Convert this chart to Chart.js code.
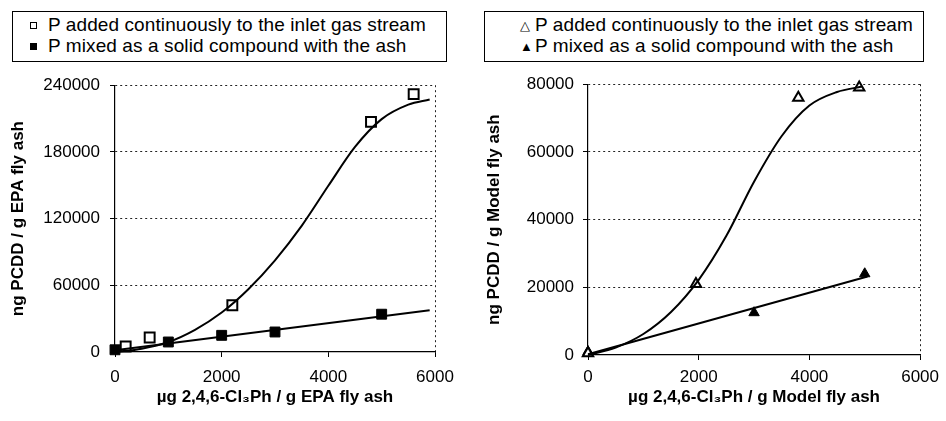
<!DOCTYPE html>
<html lang="en">
<head>
    <meta charset="UTF-8">
    <title>PCDD formation vs 2,4,6-Cl3Ph</title>
    <style>
        body {
            margin: 0;
            background: #fff;
            font-family: "Liberation Sans", Arial, sans-serif;
        }
        .wrap {
            position: relative;
            width: 946px;
            height: 421px;
            overflow: hidden;
        }
        .legend {
            position: absolute;
            top: 11px;
            height: 51px;
            border: 1px solid #000;
            font-size: 19px;
            letter-spacing: 0.1px;
            line-height: 20px;
            color: #000;
            box-sizing: border-box;
        }
        .legend div {
            position: absolute;
            white-space: nowrap;
        }
        .sq {
            position: absolute;
            width: 7px;
            height: 7px;
            box-sizing: border-box;
            border: 1.5px solid #000;
        }
        .tri {
            position: absolute;
            font-size: 13px;
            line-height: 13px;
        }
        .box {
            position: absolute;
            top: 65px;
            width: 470px;
            height: 356px;
        }
    </style>
    <script src="https://cdn.jsdelivr.net/npm/chart.js"></script>
</head>
<body>
<div class="wrap">
    <div class="legend" style="left:12px; width:435px;">
        <span class="sq" style="left:17px; top:10px;"></span>
        <div style="left:35px; top:3px;">P added continuously to the inlet gas stream</div>
        <span class="sq" style="left:17px; top:31px; background:#000;"></span>
        <div style="left:35px; top:24px;">P mixed as a solid compound with the ash</div>
    </div>
    <div class="legend" style="left:484px; width:440px;">
        <span class="tri" style="left:35px; top:7px;">△</span>
        <div style="left:50px; top:3px;">P added continuously to the inlet gas stream</div>
        <span class="tri" style="left:35px; top:28px;">▲</span>
        <div style="left:50px; top:24px;">P mixed as a solid compound with the ash</div>
    </div>
    <div class="box" style="left:0px;"><canvas id="epaChart"></canvas></div>
    <div class="box" style="left:476px;"><canvas id="modelChart"></canvas></div>
</div>

<script>
    // EPA fly ash (left panel)
    const epaGasX = [200, 650, 2200, 4800, 5600];
    const epaGasY = [5000, 13000, 42000, 207000, 232000];
    const epaSolidX = [0, 1000, 2000, 3000, 5000];
    const epaSolidY = [2000, 9000, 15000, 18000, 34000];
    // fitted curves
    const epaFitX = [0, 500, 1000, 1500, 2000, 2500, 3000, 3500, 4000, 4500, 5000, 5500, 5900];
    const epaFitY = [0, 3000, 9000, 20000, 35500, 56500, 82500, 113500, 149500, 184500, 209500, 222500, 227100];
    const epaLineX = [0, 5900];
    const epaLineY = [1500, 37500];

    // Model fly ash (right panel)
    const modelGasX = [0, 1950, 3800, 4900];
    const modelGasY = [500, 21000, 76000, 79000];
    const modelSolidX = [0, 3000, 5000];
    const modelSolidY = [1000, 12500, 24000];
    const modelFitX = [0, 500, 1000, 1500, 2000, 2500, 3000, 3500, 4000, 4500, 4950];
    const modelFitY = [0, 2200, 6200, 12700, 22200, 35200, 51200, 64700, 73700, 77700, 79300];
    const modelLineX = [0, 5050];
    const modelLineY = [200, 23200];

    const xMax = 6000;
    const xStep = 2000;

    Chart.defaults.font.family = '"Liberation Sans", Arial, sans-serif';
    Chart.defaults.color = '#000';

    function pts(xs, ys) {
        return xs.map((x, i) => ({x: x, y: ys[i]}));
    }

    function makeChart(id, cfg) {
        const ctx = document.getElementById(id).getContext('2d');
        return new Chart(ctx, {
            type: 'scatter',
            data: {
                datasets: [{
                    data: pts(cfg.fitX, cfg.fitY),
                    showLine: true,
                    borderColor: '#000',
                    borderWidth: 2,
                    pointRadius: 0,
                    cubicInterpolationMode: 'monotone'
                }, {
                    data: pts(cfg.lineX, cfg.lineY),
                    showLine: true,
                    borderColor: '#000',
                    borderWidth: 2,
                    pointRadius: 0
                }, {
                    data: pts(cfg.gasX, cfg.gasY),
                    pointStyle: cfg.style,
                    pointRadius: cfg.radius,
                    backgroundColor: '#fff',
                    borderColor: '#000',
                    borderWidth: 2
                }, {
                    data: pts(cfg.solidX, cfg.solidY),
                    pointStyle: cfg.style,
                    pointRadius: cfg.radius,
                    backgroundColor: '#000',
                    borderColor: '#000',
                    borderWidth: 1
                }]
            },
            options: {
                responsive: true,
                maintainAspectRatio: false,
                animation: false,
                clip: false,
                layout: {
                    padding: {top: cfg.padTop, right: cfg.padRight, left: 0, bottom: 0}
                },
                plugins: {
                    legend: {display: false},
                    tooltip: {enabled: false}
                },
                scales: {
                    x: {
                        type: 'linear',
                        min: 0,
                        max: xMax,
                        afterFit: s => { s.height = cfg.xHeight; },
                        ticks: {
                            stepSize: xStep,
                            padding: cfg.xPad,
                            font: {size: 17},
                            maxRotation: 0,
                            callback: v => String(v)
                        },
                        grid: {
                            color: c => (c.tick && c.tick.value === xMax) ? '#222' : 'transparent',
                            tickColor: '#000',
                            tickLength: 5,
                            lineWidth: 1
                        },
                        border: {display: true, color: '#000', width: 1.2, dash: [2, 3]},
                        title: {
                            display: true,
                            text: cfg.xTitle,
                            font: {size: 17, weight: 'bold'},
                            padding: {top: 2, bottom: 13}
                        }
                    },
                    y: {
                        min: 0,
                        max: cfg.yMax,
                        afterFit: s => { s.width = cfg.yWidth; },
                        ticks: {
                            stepSize: cfg.yStep,
                            padding: cfg.yPad,
                            font: {size: 17},
                            callback: v => String(v)
                        },
                        grid: {
                            color: c => (c.tick && c.tick.value === 0) ? 'transparent' : '#222',
                            tickColor: '#000',
                            tickLength: 5,
                            lineWidth: 1
                        },
                        border: {display: true, color: '#000', width: 1.2, dash: [2, 3]},
                        title: {
                            display: true,
                            text: cfg.yTitle,
                            font: {size: 17, weight: 'bold'},
                            padding: {top: 8, bottom: 0}
                        }
                    }
                }
            }
        });
    }

    makeChart('epaChart', {
        gasX: epaGasX, gasY: epaGasY,
        solidX: epaSolidX, solidY: epaSolidY,
        fitX: epaFitX, fitY: epaFitY,
        lineX: epaLineX, lineY: epaLineY,
        style: 'rect', radius: 7,
        yMax: 240000, yStep: 60000,
        yWidth: 115, yPad: 10, padTop: 14, padRight: 35,
        xHeight: 69, xPad: 10,
        xTitle: 'µg 2,4,6-Cl₃Ph / g EPA fly ash',
        yTitle: 'ng PCDD / g EPA fly ash'
    });

    makeChart('modelChart', {
        gasX: modelGasX, gasY: modelGasY,
        solidX: modelSolidX, solidY: modelSolidY,
        fitX: modelFitX, fitY: modelFitY,
        lineX: modelLineX, lineY: modelLineY,
        style: 'triangle', radius: 6,
        yMax: 80000, yStep: 20000,
        yWidth: 112, yPad: 9, padTop: 17, padRight: 24,
        xHeight: 66, xPad: 7,
        xTitle: 'µg 2,4,6-Cl₃Ph / g Model fly ash',
        yTitle: 'ng PCDD / g Model fly ash'
    });
</script>
</body>
</html>
